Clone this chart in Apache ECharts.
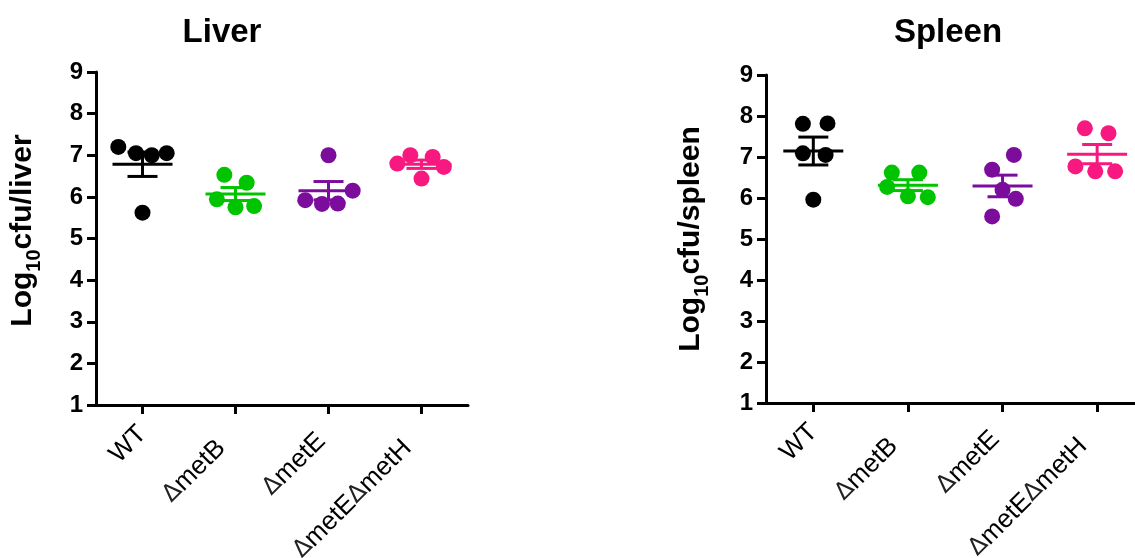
<!DOCTYPE html>
<html>
<head>
<meta charset="utf-8">
<script src="https://cdn.jsdelivr.net/npm/echarts@6/dist/echarts.min.js"></script>
<style>
  html, body { margin: 0; padding: 0; background: #fff; }
  #chart { width: 1135px; height: 558px; }
</style>
</head>
<body>
<div id="chart"></div>
<script>
// groups on the x axis
const groups = ['WT', 'ΔmetB', 'ΔmetE', 'ΔmetEΔmetH']
const groupColors = ['#000000', '#00c400', '#7b0c9c', '#f7197f']

// Log10 cfu per mouse
const liverWT = [7.20, 7.05, 7.05, 5.62, 7.00]
const liverMetB = [6.53, 6.34, 5.94, 5.75, 5.78]
const liverMetE = [7.00, 6.15, 5.92, 5.83, 5.84]
const liverMetEH = [7.00, 6.96, 6.80, 6.72, 6.44]

const spleenWT = [7.81, 7.82, 7.09, 7.05, 5.96]
const spleenMetB = [6.62, 6.62, 6.27, 6.04, 6.02]
const spleenMetE = [7.05, 6.69, 6.20, 5.98, 5.55]
const spleenMetEH = [7.70, 7.58, 6.77, 6.65, 6.65]

// horizontal spread of the dots inside a group (in group units)
const liverSpread = [
  [-0.26, -0.07, 0.26, 0, 0.1],
  [-0.12, 0.12, -0.2, 0, 0.2],
  [0, 0.26, -0.25, -0.07, 0.1],
  [-0.12, 0.12, -0.26, 0.24, 0]
]
const spleenSpread = [
  [-0.11, 0.15, -0.11, 0.13, 0],
  [-0.17, 0.12, -0.22, 0, 0.21],
  [0.12, -0.11, 0, 0.14, -0.11],
  [-0.13, 0.12, -0.23, -0.02, 0.19]
]

const yTicks = [1, 2, 3, 4, 5, 6, 7, 8, 9]

const liverData = [liverWT, liverMetB, liverMetE, liverMetEH]
const spleenData = [spleenWT, spleenMetB, spleenMetE, spleenMetEH]

function meanSem(arr) {
  const n = arr.length
  const m = arr.reduce((a, b) => a + b, 0) / n
  const sd = Math.sqrt(arr.reduce((a, b) => a + (b - m) * (b - m), 0) / (n - 1))
  return [m, sd / Math.sqrt(n)]
}

// the labels in the original sit a bit further down the slant than others
function groupLabel(v) {
  const name = groups[v]
  if (!name) return ''
  const endStyle = ['n', 'p20', 'p10', 'p20'][v]
  if (name === 'WT') return '{' + endStyle + '|WT}'
  const parts = name.split('Δ').filter(s => s)
  return parts
    .map((s, k) => '{d|Δ}{' + (k === parts.length - 1 ? endStyle : 'n') + '|' + s + '}')
    .join('')
}

function xAxisFor(gridIndex, max) {
  const txt = { fontFamily: 'Liberation Sans', fontSize: 26, color: '#000' }
  return {
    type: 'value',
    gridIndex: gridIndex,
    min: -0.5,
    max: max,
    splitLine: { show: false },
    axisLine: { onZero: false, lineStyle: { color: '#000', width: 3 } },
    axisTick: { customValues: [0, 1, 2, 3], length: 9, lineStyle: { color: '#000', width: 3 } },
    axisLabel: {
      customValues: [0, 1, 2, 3],
      rotate: 45,
      margin: 25,
      formatter: groupLabel,
      rich: {
        n: txt,
        p10: Object.assign({ padding: [0, 10, 0, 0] }, txt),
        p20: Object.assign({ padding: [0, 20, 0, 0] }, txt),
        d: { fontFamily: 'DejaVu Sans', fontSize: 24, color: '#222' }
      }
    }
  }
}

function yAxisFor(gridIndex, label, gap, shift) {
  return {
    type: 'value',
    gridIndex: gridIndex,
    min: yTicks[0],
    max: yTicks[yTicks.length - 1],
    interval: 1,
    splitLine: { show: false },
    axisLine: { show: true, onZero: false, lineStyle: { color: '#000', width: 3 } },
    axisTick: { show: true, length: 9, lineStyle: { color: '#000', width: 3 } },
    axisLabel: {
      margin: 13,
      fontFamily: 'Liberation Sans',
      fontWeight: 'bold',
      fontSize: 24,
      color: '#000'
    },
    name: '{a|Log}{s|10}{a|' + label + '}',
    nameLocation: 'middle',
    nameGap: gap,
    nameRotate: 90,
    nameTextStyle: {
      padding: [0, 0, 0, shift],
      rich: {
        a: { fontFamily: 'Liberation Sans', fontWeight: 'bold', fontSize: 30, color: '#000', verticalAlign: 'bottom' },
        s: { fontFamily: 'Liberation Sans', fontWeight: 'bold', fontSize: 20, color: '#000', verticalAlign: 'bottom', padding: [0, 0, -6, 0] }
      }
    }
  }
}

function dotSeries(dataSets, spread, axisIndex) {
  return dataSets.map((vals, g) => ({
    type: 'scatter',
    xAxisIndex: axisIndex,
    yAxisIndex: axisIndex,
    symbol: 'circle',
    symbolSize: 16,
    itemStyle: { color: groupColors[g], opacity: 1 },
    z: 2,
    data: vals.map((v, k) => [g + spread[g][k], v])
  }))
}

function meanSeries(dataSets, axisIndex) {
  return {
    type: 'custom',
    xAxisIndex: axisIndex,
    yAxisIndex: axisIndex,
    z: 5,
    data: dataSets.map((vals, g) => {
      const ms = meanSem(vals)
      return [g, ms[0], ms[1]]
    }),
    renderItem: function(params, api) {
      const g = api.value(0)
      const m = api.value(1)
      const s = api.value(2)
      const c = api.coord([g, m])
      const top = api.coord([g, m + s])
      const bot = api.coord([g, m - s])
      const style = { stroke: groupColors[g], lineWidth: 3 }
      return {
        type: 'group',
        children: [
          { type: 'line', shape: { x1: c[0] - 30, y1: c[1], x2: c[0] + 30, y2: c[1] }, style: style },
          { type: 'line', shape: { x1: c[0], y1: top[1], x2: c[0], y2: bot[1] }, style: style },
          { type: 'line', shape: { x1: c[0] - 15, y1: top[1], x2: c[0] + 15, y2: top[1] }, style: style },
          { type: 'line', shape: { x1: c[0] - 15, y1: bot[1], x2: c[0] + 15, y2: bot[1] }, style: style }
        ]
      }
    }
  }
}

const chart = echarts.init(document.getElementById('chart'))
chart.setOption({
  backgroundColor: '#fff',
  animation: false,
  title: [
    {
      text: 'Liver',
      left: 217,
      top: 11,
      textAlign: 'center',
      textStyle: { fontFamily: 'Liberation Sans', fontWeight: 'bold', fontSize: 33, color: '#000' }
    },
    {
      text: 'Spleen',
      left: 943,
      top: 11,
      textAlign: 'center',
      textStyle: { fontFamily: 'Liberation Sans', fontWeight: 'bold', fontSize: 33, color: '#000' }
    }
  ],
  grid: [
    { left: 96, top: 72, width: 372, height: 333, outerBoundsMode: 'none' },
    { left: 766, top: 75, width: 369, height: 328, outerBoundsMode: 'none' }
  ],
  xAxis: [xAxisFor(0, 3.5), xAxisFor(1, 3.4)],
  yAxis: [yAxisFor(0, 'cfu/liver', 58, 16), yAxisFor(1, 'cfu/spleen', 60, 0)],
  series: [
    ...dotSeries(liverData, liverSpread, 0),
    meanSeries(liverData, 0),
    ...dotSeries(spleenData, spleenSpread, 1),
    meanSeries(spleenData, 1)
  ]
})
</script>
</body>
</html>
